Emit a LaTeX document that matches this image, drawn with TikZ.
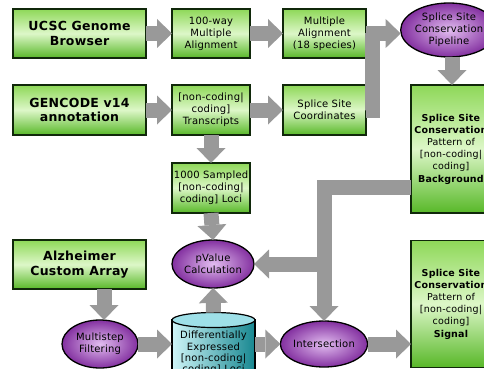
\documentclass[tikz,border=0pt]{standalone}
\usepackage{fontspec}
\setmainfont{DejaVu Sans}[LetterSpace=2]
\usetikzlibrary{arrows.meta,shapes.geometric}
\definecolor{gtop}{HTML}{8ED858}
\definecolor{gmid}{HTML}{DDF7C8}
\definecolor{gbot}{HTML}{58B828}
\definecolor{gborder}{HTML}{10280A}
\definecolor{pin}{HTML}{E2BDF0}
\definecolor{pout}{HTML}{8330A0}
\definecolor{agray}{HTML}{999999}
\definecolor{cylL}{HTML}{CFF5F8}
\definecolor{cylR}{HTML}{178790}
\definecolor{cylTop}{HTML}{9EE0E8}
\begin{document}
\begin{tikzpicture}[x=1pt,y=-1pt,
  gbox/.style={draw=gborder, line width=1.3pt, top color=gtop, bottom color=gbot, middle color=gmid,
    align=center, inner sep=0pt, outer sep=0pt, font=\fontsize{10}{12}\selectfont},
  tbox/.style={gbox, font=\bfseries\fontsize{12.5}{14.5}\selectfont},
  rbox/.style={gbox, font=\fontsize{9.5}{12.2}\selectfont},
  pell/.style={ellipse, draw=black, line width=1.3pt, shading=radial, inner color=pin, outer color=pout,
    align=center, inner sep=0pt, outer sep=0pt, font=\fontsize{10}{12}\selectfont},
  gline/.style={draw=agray, line width=15pt, line join=miter},
  garrow/.style={gline, -{Triangle[length=15pt,width=29pt,line width=0pt]}}
]
\useasboundingbox (0,0) rectangle (484,369);
\clip (0,0) rectangle (484,369);

% boxes
\node[tbox, minimum width=133pt, minimum height=49pt] (ucsc) at (79.5,33.5) {UCSC Genome\\Browser};
\node[gbox, minimum width=78pt, minimum height=49pt] (way) at (211,33.5) {100-way\\Multiple\\Alignment};
\node[gbox, minimum width=83pt, minimum height=49pt] (ma) at (324.5,33.5) {Multiple\\Alignment\\(18 species)};
\node[tbox, minimum width=133pt, minimum height=50pt] (gen) at (79.5,110) {GENCODE v14\\annotation};
\node[gbox, minimum width=78pt, minimum height=50pt] (tr) at (211,110) {[non-coding|\\coding]\\Transcripts};
\node[gbox, minimum width=83pt, minimum height=50pt] (ssc) at (324.5,110) {Splice Site\\Coordinates};
\node[gbox, minimum width=78pt, minimum height=50pt] (samp) at (211,188) {1000 Sampled\\{}[non-coding|\\coding] Loci};
\node[tbox, minimum width=133pt, minimum height=49pt] (alz) at (79.5,264.5) {Alzheimer\\Custom Array};
\node[rbox, minimum width=80pt, minimum height=128pt] (bg) at (451,149)
  {\textbf{Splice Site}\\\textbf{Conservation}\\Pattern of\\{}[non-coding|\\coding]\\\textbf{Background}};
\node[rbox, minimum width=80pt, minimum height=127pt] (sig) at (451,304)
  {\textbf{Splice Site}\\\textbf{Conservation}\\Pattern of\\{}[non-coding|\\coding]\\\textbf{Signal}};

% ellipses
\node[pell, minimum width=80pt, minimum height=54pt] (pipe) at (449,30) {Splice Site\\Conservation\\Pipeline};
\node[pell, minimum width=82pt, minimum height=48pt] (pv) at (213,264) {pValue\\Calculation};
\node[pell, minimum width=76pt, minimum height=48pt] (ms) at (100,344) {Multistep\\Filtering};
\node[pell, minimum width=82pt, minimum height=46pt] (isect) at (324,344) {Intersection};

% cylinder
\path[left color=cylL, right color=cylR, draw=black, line width=1.2pt] (172,320) rectangle (255,400);
\draw[fill=cylTop, draw=black, line width=1.2pt] (213.5,320) ellipse [x radius=41.5pt, y radius=7.5pt];
\node[inner sep=0pt, outer sep=0pt, minimum width=83pt, minimum height=87pt] (cyl) at (213.5,356) {};
\node[align=center, inner sep=0pt, font=\fontsize{10}{11.2}\selectfont] (cyltxt) at (213.5,353)
  {Differentially\\Expressed\\{}[non-coding|\\coding] Loci};

% connectors
\draw[garrow] (ucsc.east) -- (way.west);
\draw[garrow] (way.east) -- (ma.west);
\draw[garrow] (gen.east) -- (tr.west);
\draw[garrow] (tr.east) -- (ssc.west);
\coordinate (m1) at (372,33.5);
\draw[gline] (ssc.east) -| (m1);
\draw[garrow] (ma.east) -- (ma.east -| pipe.west);
\draw[garrow] (pipe.south -| 452,0) -- (bg.north -| 452,0);
\draw[garrow] (tr.south) -- (samp.north);
\draw[garrow] (samp.south) -- (pv.north);
\coordinate (j1) at (324,187);
\coordinate (j2) at (324,264);
\draw[garrow] (j1 -| bg.west) -- (j1) -- (isect.north);
\draw[garrow] (j2) -- (pv.east);
\draw[garrow] (alz.south -| 104,0) -- (ms.north -| 104,0);
\draw[garrow] (ms.east) -- (ms.east -| cyl.west);
\draw[garrow] (cyl.north) -- (pv.south);
\draw[garrow] (cyl.east |- isect.west) -- (isect.west);
\draw[garrow] (isect.east) -- (isect.east -| sig.west);
\end{tikzpicture}
\end{document}
